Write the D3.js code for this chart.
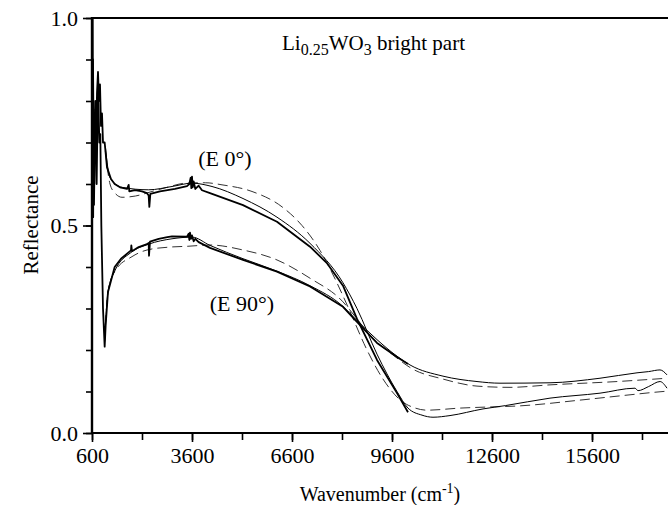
<!DOCTYPE html>
<html>
<head>
<meta charset="utf-8">
<script src="https://cdn.jsdelivr.net/npm/d3@7"></script>
<style>
  html, body { margin: 0; padding: 0; background: #fff; }
  svg { display: block; }
  text { font-family: "Liberation Serif", "DejaVu Serif", serif; fill: #000; }
</style>
</head>
<body>
<svg id="chart" width="668" height="505"></svg>
<script>
// 数据 (wavenumber cm-1, reflectance)
const xMajorTicks = [600, 3600, 6600, 9600, 12600, 15600];
const yMajorTicks = [0.0, 0.5, 1.0];

// E 0° measured (thick, IR range)
const e0Measured = [
  [600, 0.55], [620, 1.0], [635, 0.52], [650, 0.78], [670, 0.6], [690, 0.74], [720, 0.66],
  [750, 0.82], [780, 0.87], [810, 0.8], [840, 0.84], [870, 0.74], [900, 0.77], [930, 0.7],
  [980, 0.7], [1050, 0.64], [1170, 0.612], [1280, 0.6], [1440, 0.592], [1650, 0.588],
  [1700, 0.598], [1720, 0.582], [1890, 0.585], [2100, 0.582], [2250, 0.578], [2300, 0.572],
  [2320, 0.545], [2350, 0.576], [2640, 0.582], [3090, 0.588], [3450, 0.595], [3520, 0.6],
  [3560, 0.615], [3580, 0.59], [3600, 0.618], [3620, 0.592], [3650, 0.606], [3700, 0.588],
  [3800, 0.596], [3900, 0.585], [4140, 0.578], [5130, 0.549], [6150, 0.509], [7140, 0.449],
  [7640, 0.41], [8130, 0.355], [8550, 0.275], [9150, 0.176], [9750, 0.096], [10080, 0.05]
];
// E 0° thin solid
const e0Solid = [
  [1000, 0.69], [1140, 0.615], [1500, 0.592], [2300, 0.586], [3000, 0.594], [3600, 0.602],
  [4200, 0.594], [5130, 0.565], [6150, 0.52], [7140, 0.457], [8130, 0.362], [8550, 0.3],
  [9150, 0.19], [9750, 0.1], [10080, 0.06], [10500, 0.043], [10830, 0.038], [11340, 0.042],
  [12330, 0.058], [13000, 0.066], [14340, 0.084], [15840, 0.096], [16890, 0.108],
  [16980, 0.102], [17300, 0.112], [17640, 0.124], [17850, 0.108]
];
// E 0° dashed
const e0Dashed = [
  [1000, 0.68], [1140, 0.6], [1290, 0.578], [1500, 0.568], [1900, 0.571], [2400, 0.582],
  [2900, 0.593], [3400, 0.602], [4000, 0.603], [4500, 0.598], [5400, 0.582], [6300, 0.545],
  [6900, 0.5], [7440, 0.44], [7900, 0.37], [8300, 0.3], [8850, 0.2], [9330, 0.13],
  [9840, 0.08], [10300, 0.06], [10650, 0.055], [11640, 0.06], [12630, 0.063], [13350, 0.065],
  [15330, 0.08], [16500, 0.09], [17730, 0.1], [17880, 0.101]
];

// E 90° measured
const e90Measured = [
  [600, 0.5], [630, 0.9], [660, 0.55], [700, 0.8], [740, 0.6], [780, 0.85], [820, 0.7],
  [850, 0.72], [880, 0.5], [930, 0.3], [980, 0.208], [1010, 0.26], [1080, 0.34], [1280, 0.4],
  [1470, 0.42], [1770, 0.44], [1780, 0.452], [1800, 0.438], [2000, 0.448], [2250, 0.455],
  [2300, 0.458], [2310, 0.427], [2340, 0.461], [2600, 0.468], [2860, 0.472], [3000, 0.474],
  [3450, 0.473], [3500, 0.48], [3520, 0.465], [3540, 0.483], [3570, 0.468], [3600, 0.476],
  [3650, 0.462], [3700, 0.468], [3800, 0.46], [4140, 0.446], [5130, 0.417], [6150, 0.389],
  [7140, 0.353], [8130, 0.304], [8500, 0.272], [9150, 0.217], [9750, 0.183], [10080, 0.166]
];
// E 90° thin solid
const e90Solid = [
  [980, 0.22], [1080, 0.34], [1280, 0.39], [1770, 0.435], [2300, 0.455], [3000, 0.468],
  [3600, 0.472], [4140, 0.452], [5130, 0.42], [6150, 0.39], [7140, 0.355], [8130, 0.305],
  [8500, 0.275], [9150, 0.225], [9750, 0.185], [10140, 0.164], [11130, 0.137],
  [12150, 0.124], [12840, 0.12], [14340, 0.121], [15840, 0.132], [16950, 0.145],
  [17300, 0.148], [17640, 0.152], [17850, 0.14]
];
// E 90° dashed
const e90Dashed = [
  [1000, 0.26], [1080, 0.34], [1290, 0.39], [1800, 0.425], [2250, 0.441], [2940, 0.448],
  [3480, 0.45], [4140, 0.453], [5130, 0.441], [6150, 0.417], [7140, 0.373], [8130, 0.316],
  [8500, 0.28], [9000, 0.23], [9630, 0.188], [10200, 0.155], [11130, 0.13], [12150, 0.113],
  [13140, 0.11], [14340, 0.116], [16350, 0.124], [17850, 0.132]
];

const svg = d3.select('#chart');
const mLeft = 92, mTop = 18, mBottom = 433, mRight = 668;

const x = d3.scaleLinear().domain([600, 17880]).range([mLeft, mRight]);
const y = d3.scaleLinear().domain([0, 1]).range([mBottom, mTop]);

// clip
svg.append('defs').append('clipPath').attr('id', 'plot')
  .append('rect').attr('x', mLeft).attr('y', mTop - 1).attr('width', mRight - mLeft).attr('height', mBottom - mTop + 1);

// x 轴
const xMinor = d3.range(600, 17880, 1500);
svg.append('g')
  .attr('transform', `translate(0 ${mBottom})`)
  .call(d3.axisBottom(x).tickValues(xMinor).tickSize(7).tickFormat(''))
  .call(g => g.select('.domain').remove())
  .selectAll('line').attr('stroke-width', 1.6);
const xa = svg.append('g')
  .attr('transform', `translate(0 ${mBottom})`)
  .call(d3.axisBottom(x).tickValues(xMajorTicks).tickSize(9).tickPadding(5).tickFormat(d3.format('d')));
xa.select('.domain').remove();
xa.selectAll('line').attr('stroke-width', 1.6);
xa.selectAll('text').attr('font-size', 22).attr('font-family', '"Liberation Serif", serif');

// y 轴
const yMinor = d3.range(0, 1.001, 0.1);
svg.append('g')
  .attr('transform', `translate(${mLeft} 0)`)
  .call(d3.axisLeft(y).tickValues(yMinor).tickSize(6).tickFormat(''))
  .call(g => g.select('.domain').remove())
  .selectAll('line').attr('stroke-width', 1.6);
const ya = svg.append('g')
  .attr('transform', `translate(${mLeft} 0)`)
  .call(d3.axisLeft(y).tickValues(yMajorTicks).tickSize(9).tickPadding(5).tickFormat(d3.format('.1f')));
ya.select('.domain').remove();
ya.selectAll('line').attr('stroke-width', 1.6);
ya.selectAll('text').attr('font-size', 22).attr('font-family', '"Liberation Serif", serif');

// frame
svg.append('line').attr('x1', mLeft).attr('x2', mRight).attr('y1', mBottom).attr('y2', mBottom)
  .attr('stroke', '#000').attr('stroke-width', 2);
svg.append('line').attr('x1', mLeft - 1).attr('x2', mRight).attr('y1', mTop).attr('y2', mTop)
  .attr('stroke', '#000').attr('stroke-width', 2);
svg.append('line').attr('x1', mLeft).attr('x2', mLeft).attr('y1', mTop - 1).attr('y2', mBottom + 1)
  .attr('stroke', '#000').attr('stroke-width', 2.4);

// 曲线
const rough = d3.line().x(d => x(d[0])).y(d => y(d[1]));
const smooth = d3.line().x(d => x(d[0])).y(d => y(d[1])).curve(d3.curveMonotoneX);
const curves = svg.append('g').attr('clip-path', 'url(#plot)').attr('fill', 'none').attr('stroke', '#000');

[e0Dashed, e90Dashed].forEach(s => {
  curves.append('path').attr('d', smooth(s)).attr('stroke-width', 1).attr('stroke', '#333')
    .attr('stroke-dasharray', '10,5');
});
[e0Solid, e90Solid].forEach(s => {
  curves.append('path').attr('d', smooth(s)).attr('stroke-width', 1);
});
[e0Measured, e90Measured].forEach(s => {
  curves.append('path').attr('d', rough(s)).attr('stroke-width', 1.8).attr('stroke-linejoin', 'round');
});

// 文字
const title = svg.append('text').attr('x', 282).attr('y', 50).attr('font-size', 21);
title.append('tspan').text('Li');
title.append('tspan').attr('font-size', 16).attr('dy', 5).text('0.25');
title.append('tspan').attr('dy', -5).text('WO');
title.append('tspan').attr('font-size', 16).attr('dy', 5).text('3');
title.append('tspan').attr('dy', -5).text(' bright part');

svg.append('text').attr('x', 225).attr('y', 166).attr('text-anchor', 'middle').attr('font-size', 22).text('(E 0°)');
svg.append('text').attr('x', 242).attr('y', 311).attr('text-anchor', 'middle').attr('font-size', 22).text('(E 90°)');

const xt = svg.append('text').attr('x', 380).attr('y', 501).attr('text-anchor', 'middle').attr('font-size', 20);
xt.append('tspan').text('Wavenumber (cm');
xt.append('tspan').attr('font-size', 14).attr('dy', -8).text('-1');
xt.append('tspan').attr('dy', 8).text(')');

svg.append('text').attr('transform', 'translate(38 225) rotate(-90)').attr('text-anchor', 'middle')
  .attr('font-size', 21).text('Reflectance');
</script>
</body>
</html>
